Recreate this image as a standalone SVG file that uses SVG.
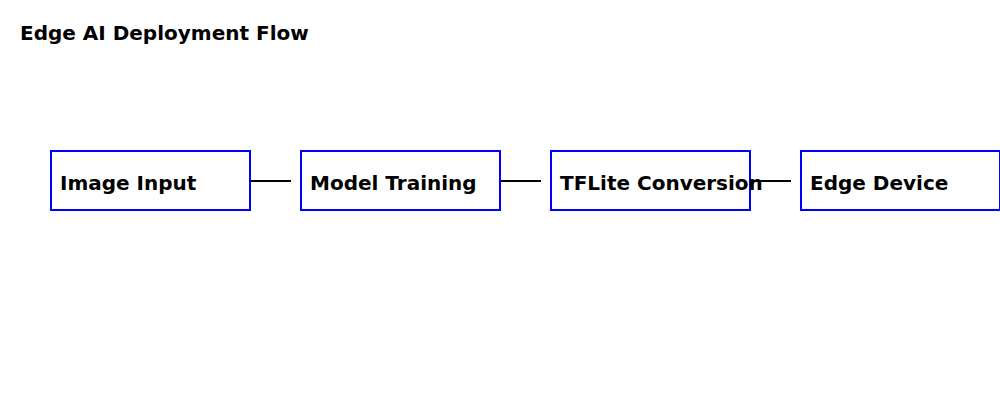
<svg xmlns="http://www.w3.org/2000/svg" width="1000" height="400" viewBox="0 0 1000 400">
<style>
.box{fill:none;stroke:#0000ff;stroke-width:2}
.lbl{font-family:"DejaVu Sans",sans-serif;font-weight:bold;font-size:20px;fill:#000}
.conn{stroke:#000;stroke-width:2;fill:none}
</style>
<rect width="1000" height="400" fill="#fff"/>
<text class="lbl" x="20" y="40">Edge AI Deployment Flow</text>
<g id="connectors">
<line class="conn" x1="250" y1="181" x2="291" y2="181"/>
<line class="conn" x1="500" y1="181" x2="541" y2="181"/>
<line class="conn" x1="750" y1="181" x2="791" y2="181"/>
</g>
<g id="node-image-input">
<rect class="box" x="51" y="151" width="199" height="59"/>
<text class="lbl" x="60" y="190">Image Input</text>
</g>
<g id="node-model-training">
<rect class="box" x="301" y="151" width="199" height="59"/>
<text class="lbl" x="310" y="190">Model Training</text>
</g>
<g id="node-tflite-conversion">
<rect class="box" x="551" y="151" width="199" height="59"/>
<text class="lbl" x="560" y="190">TFLite Conversion</text>
</g>
<g id="node-edge-device">
<rect class="box" x="801" y="151" width="199" height="59"/>
<text class="lbl" x="810" y="190">Edge Device</text>
</g>
</svg>
